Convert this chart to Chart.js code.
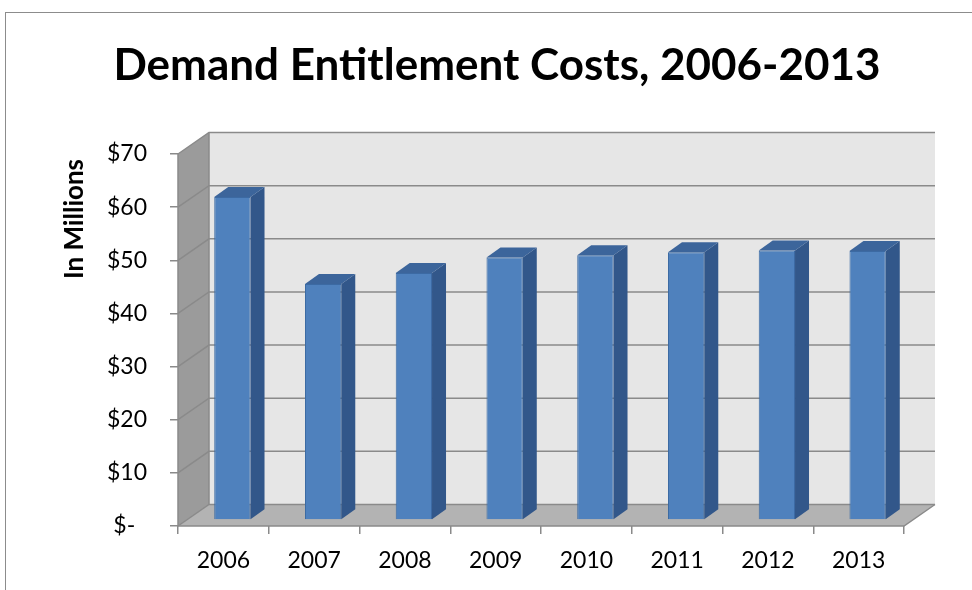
<!DOCTYPE html>
<html>
<head>
<meta charset="utf-8">
<script src="https://cdn.jsdelivr.net/npm/chart.js@4"></script>
<style>
  html, body { margin: 0; padding: 0; background: #fff; overflow: hidden; }
  .wrap { position: relative; width: 972px; height: 590px; }
  .frame { position: absolute; left: 5px; top: 12px; width: 1200px; height: 900px; border: 1px solid #8c8c8c; }
  canvas { position: absolute; left: 0; top: 0; }
</style>
</head>
<body>
<div class="wrap">
  <div class="frame"></div>
  <canvas id="costChart" width="972" height="590"></canvas>
</div>
<script>
// ---- Data ----
const years       = ["2006", "2007", "2008", "2009", "2010", "2011", "2012", "2013"];
const costs       = [60.8, 44.4, 46.5, 49.4, 49.8, 50.4, 50.7, 50.6];
const yTickLabels = ["$-  ", "$10", "$20", "$30", "$40", "$50", "$60", "$70"];
const chartTitle  = "Demand Entitlement Costs, 2006-2013";
const yAxisTitle  = "In Millions";

// ---- 3D look ----
const depth    = { dx: 31, dy: -21.5 };  // front plane -> back wall
const barShift = { dx: 9,  dy: -6 };     // front plane -> bar front face
const barSide  = { dx: 14, dy: -10 };    // bar thickness

const fontFamily = "Lato, 'Open Sans', sans-serif";

function poly(ctx, pts, fill) {
  ctx.beginPath();
  ctx.moveTo(pts[0][0], pts[0][1]);
  for (let i = 1; i < pts.length; i++) ctx.lineTo(pts[i][0], pts[i][1]);
  ctx.closePath();
  ctx.fillStyle = fill;
  ctx.fill();
}

const walls3d = {
  id: "walls3d",
  beforeDraw(chart) {
    const { ctx, chartArea: a, scales } = chart;
    const y = scales.y;
    const dx = depth.dx, dy = depth.dy;
    ctx.save();
    // back wall
    ctx.fillStyle = "#e6e6e6";
    ctx.fillRect(a.left + dx, a.top + dy, a.right - a.left, a.bottom - a.top);
    // side wall
    poly(ctx, [[a.left, a.bottom], [a.left, a.top], [a.left + dx, a.top + dy], [a.left + dx, a.bottom + dy]], "#9b9b9b");
    // floor
    poly(ctx, [[a.left, a.bottom], [a.right, a.bottom], [a.right + dx, a.bottom + dy], [a.left + dx, a.bottom + dy]], "#b3b3b3");

    ctx.strokeStyle = "#8a8a8a";
    ctx.lineWidth = 1.5;
    // grid lines on side + back wall
    y.ticks.forEach(t => {
      const py = y.getPixelForValue(t.value);
      ctx.beginPath();
      ctx.moveTo(a.left, py);
      ctx.lineTo(a.left + dx, py + dy);
      ctx.lineTo(a.right + dx, py + dy);
      ctx.stroke();
    });
    // edges
    ctx.beginPath();
    ctx.moveTo(a.left, a.top);
    ctx.lineTo(a.left, a.bottom);
    ctx.lineTo(a.right, a.bottom);
    ctx.lineTo(a.right + dx, a.bottom + dy);
    ctx.moveTo(a.left + dx, a.top + dy);
    ctx.lineTo(a.left + dx, a.bottom + dy);
    ctx.stroke();
    ctx.restore();
  },
  beforeDatasetsDraw(chart) {
    chart.ctx.save();
    chart.ctx.translate(barShift.dx, barShift.dy);
  },
  afterDatasetsDraw(chart) {
    const ctx = chart.ctx;
    const meta = chart.getDatasetMeta(0);
    meta.data.forEach(bar => {
      const p = bar.getProps(["x", "y", "base", "width"], true);
      const l = p.x - p.width / 2, r = p.x + p.width / 2;
      const sx = barSide.dx, sy = barSide.dy;
      // side face
      poly(ctx, [[r, p.y], [r + sx, p.y + sy], [r + sx, p.base + sy], [r, p.base]], "#32578a");
      // top face
      poly(ctx, [[l, p.y], [l + sx, p.y + sy], [r + sx, p.y + sy], [r, p.y]], "#3c659b");
    });
    ctx.restore();
  },
  afterDraw(chart) {
    const ctx = chart.ctx;
    ctx.save();
    ctx.fillStyle = "#000";
    ctx.textAlign = "center";
    ctx.textBaseline = "middle";
    // chart title, centred on the whole frame
    ctx.font = "bold 44px " + fontFamily;
    ctx.fillText(chartTitle, 497, 66);
    // value axis title
    ctx.translate(75, 219);
    ctx.rotate(-Math.PI / 2);
    ctx.font = "bold 26px " + fontFamily;
    ctx.fillText(yAxisTitle, 0, 0);
    ctx.restore();
  }
};

// ---- Chart ----
new Chart(document.getElementById("costChart"), {
  type: "bar",
  data: {
    labels: years,
    datasets: [{
      data: costs,
      backgroundColor: "#4f81bd",
      borderColor: "#3c6aa3",
      borderWidth: 1,
      categoryPercentage: 1,
      barPercentage: 0.4
    }]
  },
  options: {
    responsive: false,
    animation: false,
    devicePixelRatio: 1,
    layout: { padding: { left: 0, top: 154, right: 68, bottom: 0 } },
    plugins: {
      legend: { display: false },
      tooltip: { enabled: false },
      title: { display: false }
    },
    scales: {
      x: {
        grid: { drawOnChartArea: false, drawTicks: true, tickLength: 8, color: "#8a8a8a", lineWidth: 1.5 },
        border: { display: false },
        ticks: { color: "#000", padding: 13, font: { family: fontFamily, size: 23 } },
        afterFit(scale) { scale.height = 64; }
      },
      y: {
        min: 0,
        max: 70,
        grid: { drawOnChartArea: false, drawTicks: true, tickLength: 8, color: "#8a8a8a", lineWidth: 1.5 },
        border: { display: false },
        ticks: {
          stepSize: 10,
          color: "#000",
          padding: 23,
          font: { family: fontFamily, size: 23 },
          callback: (v, i) => yTickLabels[i]
        },
        afterFit(scale) { scale.width = 178; }
      }
    }
  },
  plugins: [walls3d]
});
</script>
</body>
</html>
